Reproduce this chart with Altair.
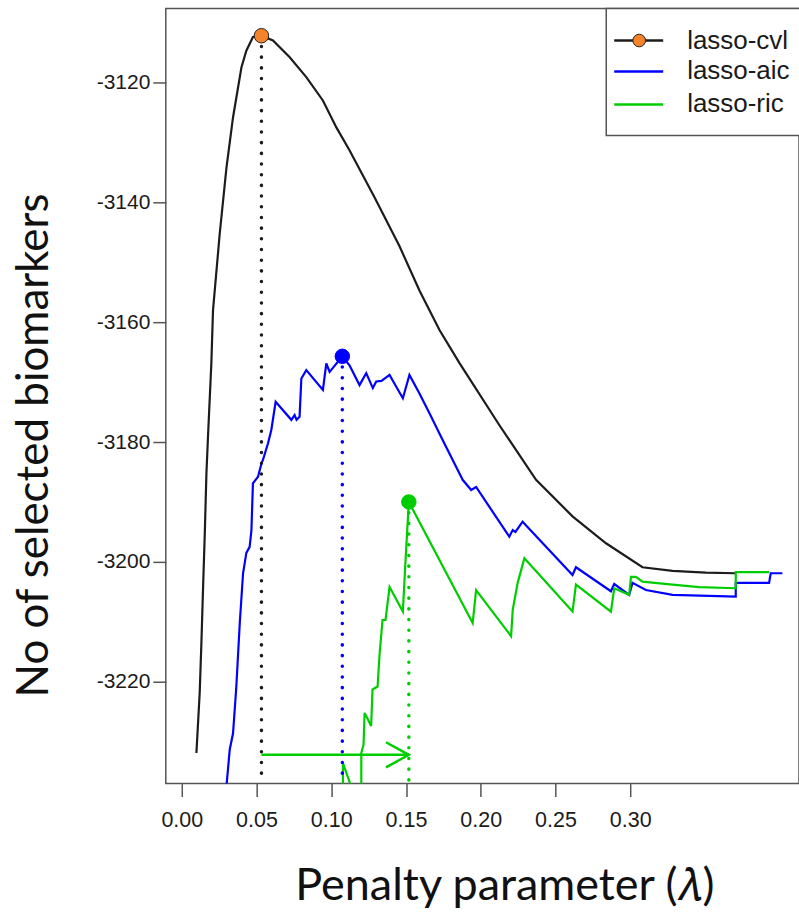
import altair as alt
import pandas as pd

series_names = ["lasso-cvl", "lasso-aic", "lasso-ric"]
line_colors = ["#1c1c1c", "#0000ff", "#00cd00"]
dot_colors = ["#f5832a", "#0000ff", "#00cd00"]

cvl_lambda = [0.0098, 0.0120, 0.0132, 0.0142, 0.0154, 0.0165, 0.0176, 0.0198, 0.0209, 0.0254,
              0.0299, 0.0343, 0.0399, 0.0432, 0.0476, 0.0533, 0.0610, 0.0722, 0.0833, 0.0944,
              0.1034, 0.1122, 0.1290, 0.1456, 0.1590, 0.1724, 0.1857, 0.2125, 0.2370, 0.2614,
              0.2838, 0.3082, 0.3283, 0.3506, 0.3706]
cvl_value = [-3231.9, -3221.8, -3213.0, -3204.7, -3195.2, -3185.2, -3178.8, -3166.8, -3158.0, -3145.2,
             -3134.2, -3125.8, -3117.5, -3114.7, -3112.4, -3112.2, -3113.0, -3115.8, -3119.1, -3123.0,
             -3127.5, -3131.3, -3139.2, -3147.3, -3154.7, -3161.3, -3166.8, -3177.2, -3186.3, -3192.4,
             -3196.9, -3200.9, -3201.5, -3201.8, -3201.9]

aic_lambda = [0.0294, 0.0321, 0.0343, 0.0365, 0.0388, 0.0410, 0.0432, 0.0454, 0.0466, 0.0476,
              0.0510, 0.0533, 0.0543, 0.0577, 0.0599, 0.0628, 0.0733, 0.0755, 0.0768, 0.0788,
              0.0800, 0.0833, 0.0944, 0.0967, 0.0989, 0.1022, 0.1074, 0.1122, 0.1189, 0.1234,
              0.1278, 0.1301, 0.1336, 0.1390, 0.1410, 0.1479, 0.1523, 0.1590, 0.1657, 0.1746,
              0.1857, 0.1879, 0.1936, 0.1969, 0.2191, 0.2214, 0.2232, 0.2280, 0.2614, 0.2637,
              0.2871, 0.2893, 0.2993, 0.3015, 0.3105, 0.3283, 0.3706, 0.3706, 0.3929, 0.3940,
              0.4018]
aic_value = [-3238.8, -3231.3, -3228.6, -3220.8, -3210.2, -3201.9, -3198.5, -3197.5, -3194.7, -3186.9,
             -3185.8, -3183.6, -3183.0, -3180.2, -3178.0, -3173.3, -3176.3, -3175.5, -3176.3, -3175.8,
             -3169.4, -3168.0, -3171.3, -3166.9, -3168.3, -3167.3, -3165.7, -3167.2, -3170.5, -3168.5,
             -3171.0, -3169.9, -3169.8, -3168.8, -3169.7, -3172.7, -3168.8, -3171.9, -3175.2, -3179.7,
             -3185.2, -3186.3, -3188.0, -3187.5, -3195.8, -3194.7, -3195.0, -3193.3, -3202.2, -3200.9,
             -3204.9, -3203.7, -3205.5, -3203.5, -3204.7, -3205.5, -3205.8, -3203.5, -3203.5, -3201.9,
             -3201.9]

ric_lambda = [0.1078, 0.1078, 0.1169, 0.1201, 0.1201, 0.1216, 0.1223, 0.1267, 0.1276, 0.1310,
              0.1323, 0.1343, 0.1363, 0.1390, 0.1479, 0.1497, 0.1519, 0.1946, 0.1969, 0.2203,
              0.2214, 0.2247, 0.2292, 0.2614, 0.2637, 0.2871, 0.2893, 0.2993, 0.3005, 0.3038,
              0.3082, 0.3283, 0.3461, 0.3706, 0.3706, 0.3929]
ric_value = [-3240.0, -3233.6, -3240.0, -3240.0, -3231.9, -3230.5, -3225.2, -3227.4, -3221.3, -3220.8,
             -3215.5, -3209.7, -3209.7, -3204.2, -3208.3, -3199.7, -3190.0, -3210.2, -3204.7, -3212.4,
             -3208.0, -3203.5, -3199.4, -3208.3, -3203.8, -3208.3, -3204.4, -3205.5, -3202.5, -3202.5,
             -3203.3, -3203.8, -3204.2, -3204.4, -3201.7, -3201.7]

peak_lambda = [0.0533, 0.1074, 0.1519]
peak_value = [-3112.2, -3165.7, -3190.0]

arrow_lambda = [0.0533, 0.1519]
arrow_value = -3232.2

x_ticks = [0.00, 0.05, 0.10, 0.15, 0.20, 0.25, 0.30]
y_ticks = [-3220, -3200, -3180, -3160, -3140, -3120]

X_DOMAIN = [-0.01069, 0.41291]
Y_DOMAIN = [-3237.0, -3107.667]

x_title = "Penalty parameter (\U0001D706)"
y_title = "No of selected biomarkers"

frames = []
for name, lam, val in [(series_names[0], cvl_lambda, cvl_value),
                       (series_names[1], aic_lambda, aic_value),
                       (series_names[2], ric_lambda, ric_value)]:
    frames.append(pd.DataFrame({"series": name, "lam": lam, "val": val, "i": range(len(lam))}))
lines_df = pd.concat(frames, ignore_index=True)

peaks_df = pd.DataFrame({"series": series_names, "lam": peak_lambda, "val": peak_value,
                         "base": [Y_DOMAIN[0]] * 3})
arrow_df = pd.DataFrame({"lam": [arrow_lambda[0]], "lam2": [arrow_lambda[1]], "val": [arrow_value]})
head_df = pd.DataFrame({"lam": [arrow_lambda[1]], "val": [arrow_value]})

xscale = alt.Scale(domain=X_DOMAIN, nice=False, zero=False)
yscale = alt.Scale(domain=Y_DOMAIN, nice=False, zero=False)

LABEL_COLOR = "#1a1a1a"

X = alt.X("lam:Q", scale=xscale, title=x_title,
          axis=alt.Axis(values=x_ticks, format=".2f", grid=False, domain=False,
                        tickSize=13, tickWidth=1.5, tickColor="#555555",
                        labelFont="Liberation Sans", labelFontSize=21.5, labelColor=LABEL_COLOR,
                        labelPadding=13, labelFlush=False,
                        titleFont="Lato", titleFontSize=45, titleFontWeight="normal",
                        titleColor="#111111", titleX=339, titleY=116,
                        titleAlign="center", titleBaseline="alphabetic"))
Y = alt.Y("val:Q", scale=yscale, title=y_title,
          axis=alt.Axis(values=y_ticks, grid=False, domain=False,
                        labelExpr="'-' + format(abs(datum.value), 'd')",
                        tickSize=13, tickWidth=1.5, tickColor="#555555",
                        labelFont="Liberation Sans", labelFontSize=21, labelColor=LABEL_COLOR,
                        labelPadding=3, labelFlush=False,
                        titleFont="Lato", titleFontSize=44, titleFontWeight="normal",
                        titleColor="#111111", titleX=-118, titleY=437, titleAngle=270,
                        titleAlign="center", titleBaseline="alphabetic"))

color_scale = alt.Scale(domain=series_names, range=line_colors)

lines = alt.Chart(lines_df).mark_line(strokeWidth=2.2, clip=True).encode(
    x=X, y=Y,
    color=alt.Color("series:N", scale=color_scale, legend=None),
    order=alt.Order("i:Q"),
)

dotted = alt.Chart(peaks_df).mark_rule(strokeDash=[0.1, 10.6], strokeCap="round",
                                       strokeWidth=3.5, clip=True).encode(
    x="lam:Q", y="val:Q", y2="base:Q",
    color=alt.Color("series:N", scale=color_scale, legend=None),
)

arrow = alt.Chart(arrow_df).mark_rule(color="#00cd00", strokeWidth=2.5).encode(
    x="lam:Q", x2="lam2:Q", y="val:Q")
head = alt.Chart(head_df).mark_point(shape="M-1,-0.55L0,0L-1,0.55", filled=False,
                                     color="#00cd00", strokeWidth=2.5, size=2100,
                                     opacity=1).encode(x="lam:Q", y="val:Q")

dots = alt.Chart(peaks_df).mark_point(filled=True, size=210, opacity=1, strokeWidth=1).encode(
    x="lam:Q", y="val:Q",
    fill=alt.Fill("series:N", scale=alt.Scale(domain=series_names, range=dot_colors), legend=None),
    stroke=alt.Stroke("series:N", scale=alt.Scale(domain=series_names,
                                                  range=["#222222", "#0000ff", "#00cd00"]), legend=None),
)

one = pd.DataFrame({"k": [0]})
legend_box = alt.Chart(one).mark_rect(fill="white", stroke="#555555", strokeWidth=1.5).encode(
    x=alt.value(441), x2=alt.value(800), y=alt.value(0), y2=alt.value(127))
legend_layers = [legend_box]
legend_y = [32, 63, 96]
for k in range(3):
    legend_layers.append(alt.Chart(one).mark_rule(color=line_colors[k], strokeWidth=2.5).encode(
        x=alt.value(449), x2=alt.value(498), y=alt.value(legend_y[k])))
    legend_layers.append(alt.Chart(one).mark_text(text=series_names[k], align="left",
                                                  baseline="middle", font="Liberation Sans",
                                                  fontSize=26, color=LABEL_COLOR).encode(
        x=alt.value(522), y=alt.value(legend_y[k])))
legend_layers.append(alt.Chart(one).mark_point(filled=True, size=160, opacity=1,
                                               fill=dot_colors[0], stroke="#222222",
                                               strokeWidth=1).encode(
    x=alt.value(474), y=alt.value(legend_y[0])))

chart = alt.layer(lines, dotted, arrow, head, dots, *legend_layers).properties(
    width=634, height=776,
    autosize=alt.AutoSizeParams(type="none"),
    padding={"left": 166, "top": 8, "right": 0, "bottom": 129},
    background="white",
).configure_view(stroke="#555555", strokeWidth=1.5)

chart.save("out.html", embed_options={"renderer": "svg", "actions": False})
